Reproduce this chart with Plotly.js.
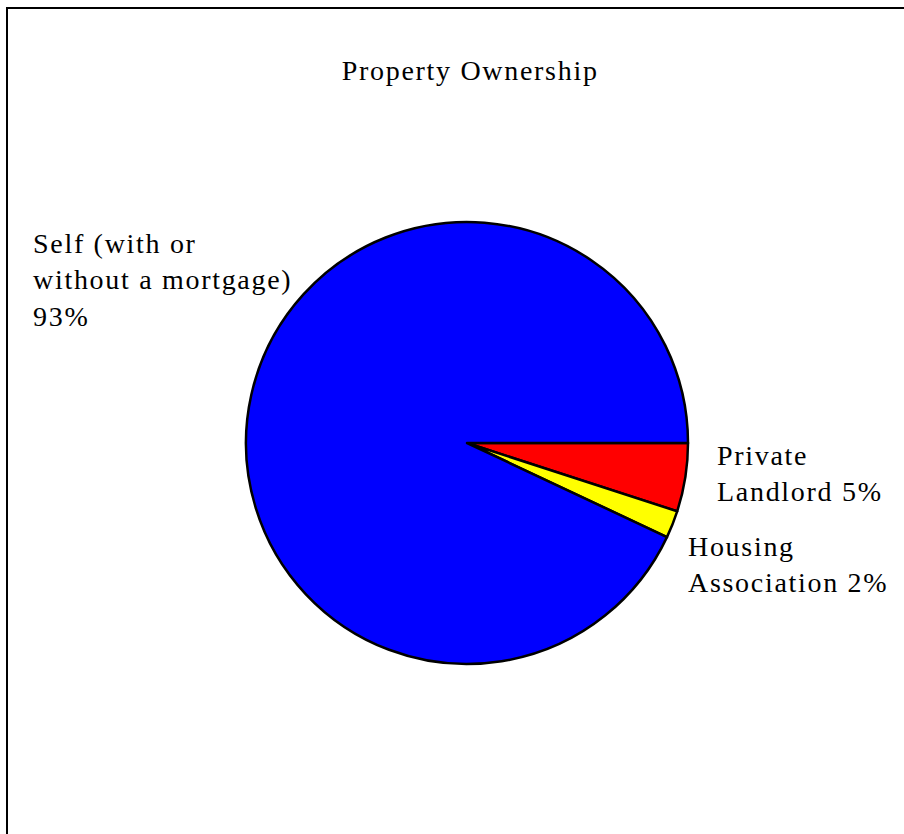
<!DOCTYPE html>
<html>
<head>
<meta charset="utf-8">
<script src="https://cdn.plot.ly/plotly-3.0.1.min.js"></script>
<style>
html,body{margin:0;padding:0;background:#fff;}
#chart{width:904px;height:834px;}
#chart .annotation-text{letter-spacing:1.7px;}
</style>
</head>
<body>
<div id="chart"></div>
<script>
const categories = ['Private Landlord', 'Housing Association', 'Self (with or without a mortgage)'];
const displayLabels = ['Private<br>Landlord', 'Housing<br>Association', 'Self (with or<br>without a mortgage)<br>'];
const values = [5, 2, 93];
const colors = ['#ff0000', '#ffff00', '#0000ff'];
const chartTitle = 'Property Ownership';

const W = 904, H = 834;
const FONT = 'Liberation Serif, Times New Roman, serif';
const FS = 28;
const px = x => x / W;
const py = y => 1 - y / H;

const total = values.reduce((a, b) => a + b, 0);
const labelPos = [[715, 473], [686, 564], [31, 280]];
const annotations = categories.map((c, i) => ({
  text: displayLabels[i] + (displayLabels[i].endsWith('<br>') ? '' : ' ') + Math.round(values[i] / total * 100) + '%',
  xref: 'paper', yref: 'paper',
  x: px(labelPos[i][0]), y: py(labelPos[i][1]),
  xanchor: 'left', yanchor: 'middle', align: 'left',
  showarrow: false,
  font: {family: FONT, size: FS, color: '#000'}
}));
annotations.push({
  text: chartTitle, xref: 'paper', yref: 'paper',
  x: px(470), y: py(70), xanchor: 'center', yanchor: 'middle',
  showarrow: false, font: {family: FONT, size: FS, color: '#000'}
});

const trace = {
  type: 'pie',
  labels: categories,
  values: values,
  sort: false,
  direction: 'clockwise',
  rotation: 90,
  textinfo: 'none',
  hoverinfo: 'label+percent',
  marker: {colors: colors, line: {color: '#000', width: 2.5}},
  domain: {x: [px(246), px(688)], y: [py(664), py(222)]},
  showlegend: false
};

const layout = {
  width: W, height: H,
  margin: {l: 0, r: 0, t: 0, b: 0},
  paper_bgcolor: '#fff',
  showlegend: false,
  annotations: annotations,
  shapes: [{
    type: 'rect', xref: 'paper', yref: 'paper',
    x0: px(7), x1: 1.05, y0: -0.05, y1: py(8),
    line: {color: '#000', width: 2}, fillcolor: 'rgba(0,0,0,0)'
  }]
};

Plotly.newPlot('chart', [trace], layout, {staticPlot: true});
</script>
</body>
</html>
